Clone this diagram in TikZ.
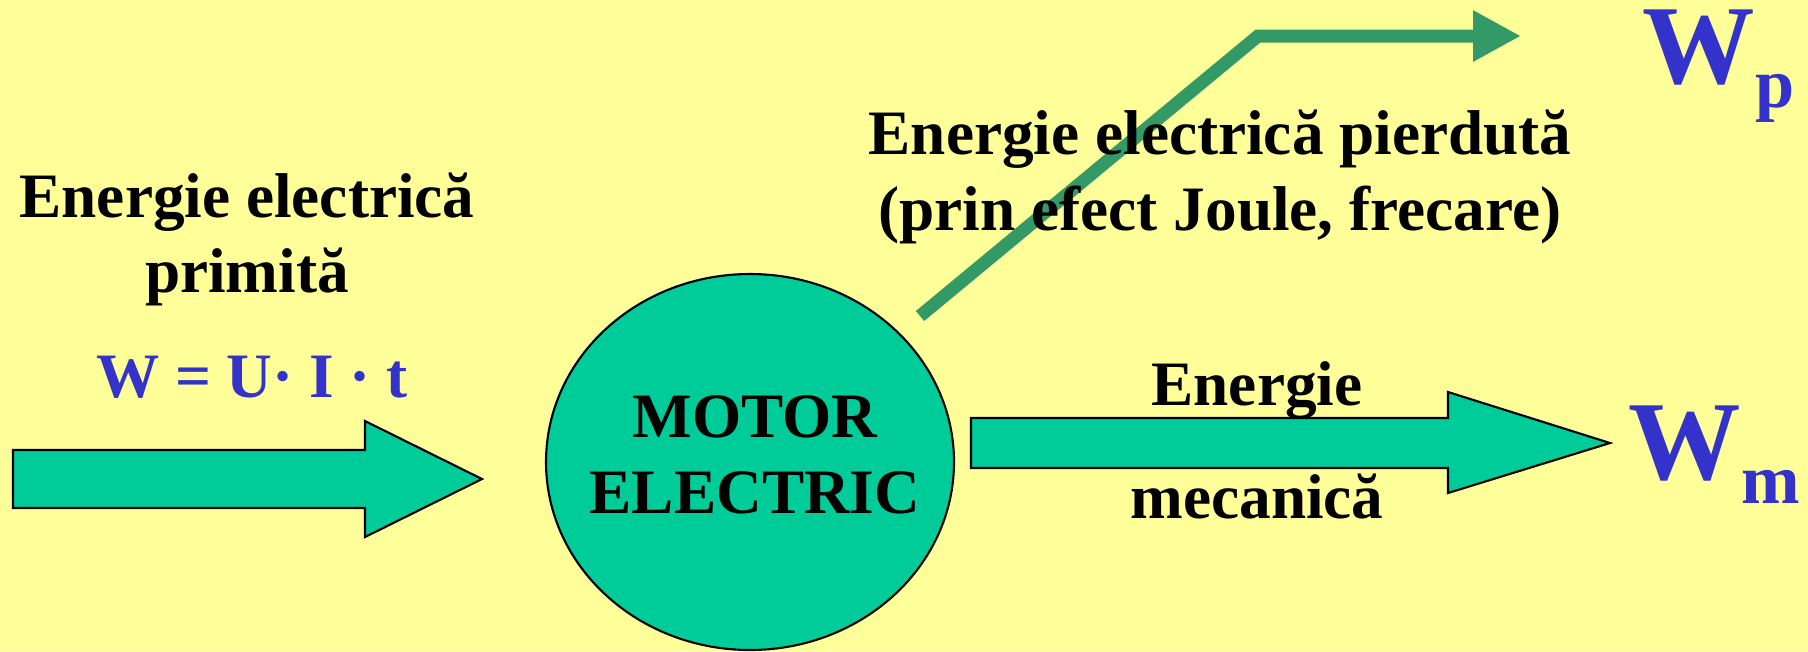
\documentclass[tikz,border=0pt]{standalone}
\usepackage{fontspec}
\setmainfont{Liberation Serif}
\usetikzlibrary{arrows.meta,positioning,shapes.geometric,calc}
\definecolor{fondo}{HTML}{FFFF99}
\definecolor{verdebloc}{HTML}{00CC99}
\definecolor{verdepierd}{HTML}{339966}
\definecolor{albastru}{HTML}{3333CC}

\tikzset{
  txt/.style={font=\fontsize{18}{21.6}\selectfont\bfseries, inner sep=0pt, anchor=base},
  simbol/.style={txt, text=albastru},
  blocsag/.style={fill=verdebloc, draw=black, line width=0.6pt, line join=miter},
}

\begin{document}
\begin{tikzpicture}[>=Latex]
  \fill[fondo] (0,0) rectangle (18.08,6.51);
  \useasboundingbox (0,0) rectangle (18.08,6.51);

  % energie primita
  \draw[blocsag] (0.13,2.01) -- (3.65,2.01) -- (3.65,2.30) -- (4.82,1.72)
    -- (3.65,1.14) -- (3.65,1.43) -- (0.13,1.43) -- cycle;
  \node[txt] (prim1) at (2.47,4.34) {Energie electrică};
  \node[txt] (prim2) at ([yshift=-0.75cm]prim1.base) {primită};
  \node[simbol] (formula) at (2.52,2.54) {W = U· I · t};

  % motorul
  \node[ellipse, fill=verdebloc, draw=black, line width=0.6pt,
        minimum width=4.08cm, minimum height=3.76cm, inner sep=0pt]
        (motor) at (7.50,1.89) {};
  \node[txt] (motor1) at (7.55,2.14) {MOTOR};
  \node[txt] (motor2) at ([yshift=-0.76cm]motor1.base) {ELECTRIC};

  % energie pierduta
  \coordinate (pA) at (9.20,3.35);
  \coordinate (pB) at (12.58,6.15);
  \coordinate (pC) at (15.21,6.15);
  \draw[verdepierd, line width=0.13cm, line join=miter,
        -{Triangle[length=0.48cm,width=0.48cm]}] (pA) -- (pB) -- (pC);
  \node[txt] (pierd1) at (12.20,4.97) {Energie electrică pierdută};
  \node[txt] (pierd2) at ([yshift=-0.76cm]pierd1.base) {(prin efect Joule, frecare)};
  \node[simbol, anchor=base west] (Wp) at (16.42,5.68)
    {\fontsize{32}{38}\selectfont W\raisebox{-0.24cm}{\fontsize{20}{24}\selectfont p}};

  % energie mecanica
  \draw[blocsag] (9.71,2.33) -- (14.48,2.33) -- (14.48,2.59) -- (16.10,2.08)
    -- (14.48,1.58) -- (14.48,1.83) -- (9.71,1.83) -- cycle;
  \node[txt] (mec1) at (12.57,2.46) {Energie};
  \node[txt] (mec2) at (12.57,1.33) {mecanică};
  \node[simbol, anchor=base west] (Wm) at (16.28,1.72)
    {\fontsize{32}{38}\selectfont W\raisebox{-0.24cm}{\fontsize{20}{24}\selectfont m}};
\end{tikzpicture}
\end{document}
